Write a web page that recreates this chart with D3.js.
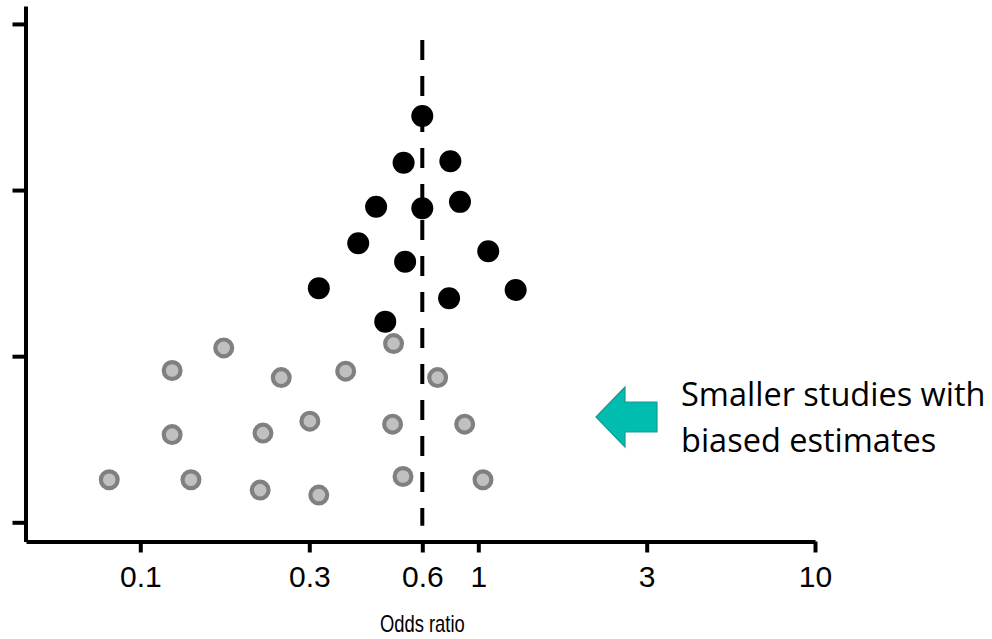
<!DOCTYPE html>
<html>
<head>
<meta charset="utf-8">
<script src="https://cdn.jsdelivr.net/npm/d3@7"></script>
<style>
  html, body { margin: 0; padding: 0; background: #fff; }
  #chart svg { display: block; }
</style>
</head>
<body>
<div id="chart"></div>
<script>
// odds ratio axis ticks
const xTicks = [0.1, 0.3, 0.6, 1, 3, 10];
const xTickLabels = ["0.1", "0.3", "0.6", "1", "3", "10"];
const yTicks = [0, 1, 2, 3];
const pooledOR = 0.6;

// larger studies (black)
const largeOR = [0.6, 0.535, 0.775, 0.452, 0.6, 0.846, 0.405, 0.54, 1.067, 0.318, 0.766, 1.276, 0.478];
const largePrec = [2.446, 2.165, 2.174, 1.9, 1.891, 1.929, 1.68, 1.569, 1.632, 1.409, 1.349, 1.399, 1.208];

// smaller studies (grey)
const smallOR = [0.172, 0.123, 0.25, 0.375, 0.503, 0.69, 0.123, 0.222, 0.301, 0.5, 0.883, 0.0817, 0.139, 0.218, 0.318, 0.533, 1.031];
const smallPrec = [1.05, 0.914, 0.871, 0.91, 1.076, 0.871, 0.528, 0.537, 0.609, 0.591, 0.591, 0.256, 0.256, 0.194, 0.164, 0.276, 0.256];

const W = 992, H = 639;

const svg = d3.select("#chart")
  .append("svg")
  .attr("width", W)
  .attr("height", H);

// tick spacing in the picture is not a clean log scale, so piecewise log
const x = d3.scaleLog()
  .domain([0.0475, 0.1, 0.3, 0.6, 1, 3, 10])
  .range([26, 140.3, 309.3, 422.3, 478.3, 646.7, 815]);

const y = d3.scaleLinear()
  .domain([-0.1155, 3.108])
  .range([541.5, 6]);

// axes
const xAxis = svg.append("g")
  .attr("transform", `translate(0,${y.range()[0]})`)
  .call(d3.axisBottom(x)
    .tickValues(xTicks)
    .tickFormat((d, i) => xTickLabels[i])
    .tickSize(11)
    .tickSizeOuter(0)
    .tickPadding(13));

const yAxis = svg.append("g")
  .attr("transform", `translate(${x.range()[0] - 0.5},0)`)
  .call(d3.axisLeft(y)
    .tickValues(yTicks)
    .tickFormat("")
    .tickSize(13)
    .tickSizeOuter(0));

svg.selectAll(".domain, .tick line")
  .attr("stroke", "#000")
  .attr("stroke-width", 4);

xAxis.selectAll(".tick text")
  .attr("fill", "#000")
  .style("font-family", "'Liberation Sans', Arial, sans-serif")
  .style("font-size", "30px");

// axis title is a bit narrow in the picture
svg.append("text")
  .attr("transform", `translate(${x(pooledOR)},632) scale(0.8,1)`)
  .attr("text-anchor", "middle")
  .style("font-family", "'Liberation Sans', Arial, sans-serif")
  .style("font-size", "23px")
  .text("Odds ratio");

// pooled estimate line
svg.append("line")
  .attr("x1", x(pooledOR))
  .attr("x2", x(pooledOR))
  .attr("y1", y(2.904))
  .attr("y2", y(-0.021))
  .attr("stroke", "#000")
  .attr("stroke-width", 4)
  .attr("stroke-dasharray", "20,16");

// small studies
svg.append("g")
  .selectAll("circle")
  .data(smallOR.map((d, i) => ({ or: d, p: smallPrec[i] })))
  .enter()
  .append("circle")
  .attr("cx", d => x(d.or))
  .attr("cy", d => y(d.p))
  .attr("r", 8.4)
  .attr("fill", "#c0c0c0")
  .attr("stroke", "#808080")
  .attr("stroke-width", 4.2);

// large studies
svg.append("g")
  .selectAll("circle")
  .data(largeOR.map((d, i) => ({ or: d, p: largePrec[i] })))
  .enter()
  .append("circle")
  .attr("cx", d => x(d.or))
  .attr("cy", d => y(d.p))
  .attr("r", 11)
  .attr("fill", "#000");

// annotation arrow + label
const ax = 596, ay = 417;
svg.append("path")
  .attr("d", `M${ax},${ay} L${ax + 29},${ay - 30} L${ax + 29},${ay - 15} L${ax + 61},${ay - 15} L${ax + 61},${ay + 15} L${ax + 29},${ay + 15} L${ax + 29},${ay + 30} Z`)
  .attr("fill", "#00bdb0")
  .attr("stroke", "#179a90")
  .attr("stroke-width", 1.2);

const note = svg.append("text")
  .attr("x", 681)
  .attr("y", 406)
  .style("font-family", "'Open Sans', 'Noto Sans', sans-serif")
  .style("font-size", "32.5px")
  .attr("fill", "#000");
note.append("tspan").attr("x", 681).text("Smaller studies with");
note.append("tspan").attr("x", 681).attr("dy", 45.7).text("biased estimates");
</script>
</body>
</html>
